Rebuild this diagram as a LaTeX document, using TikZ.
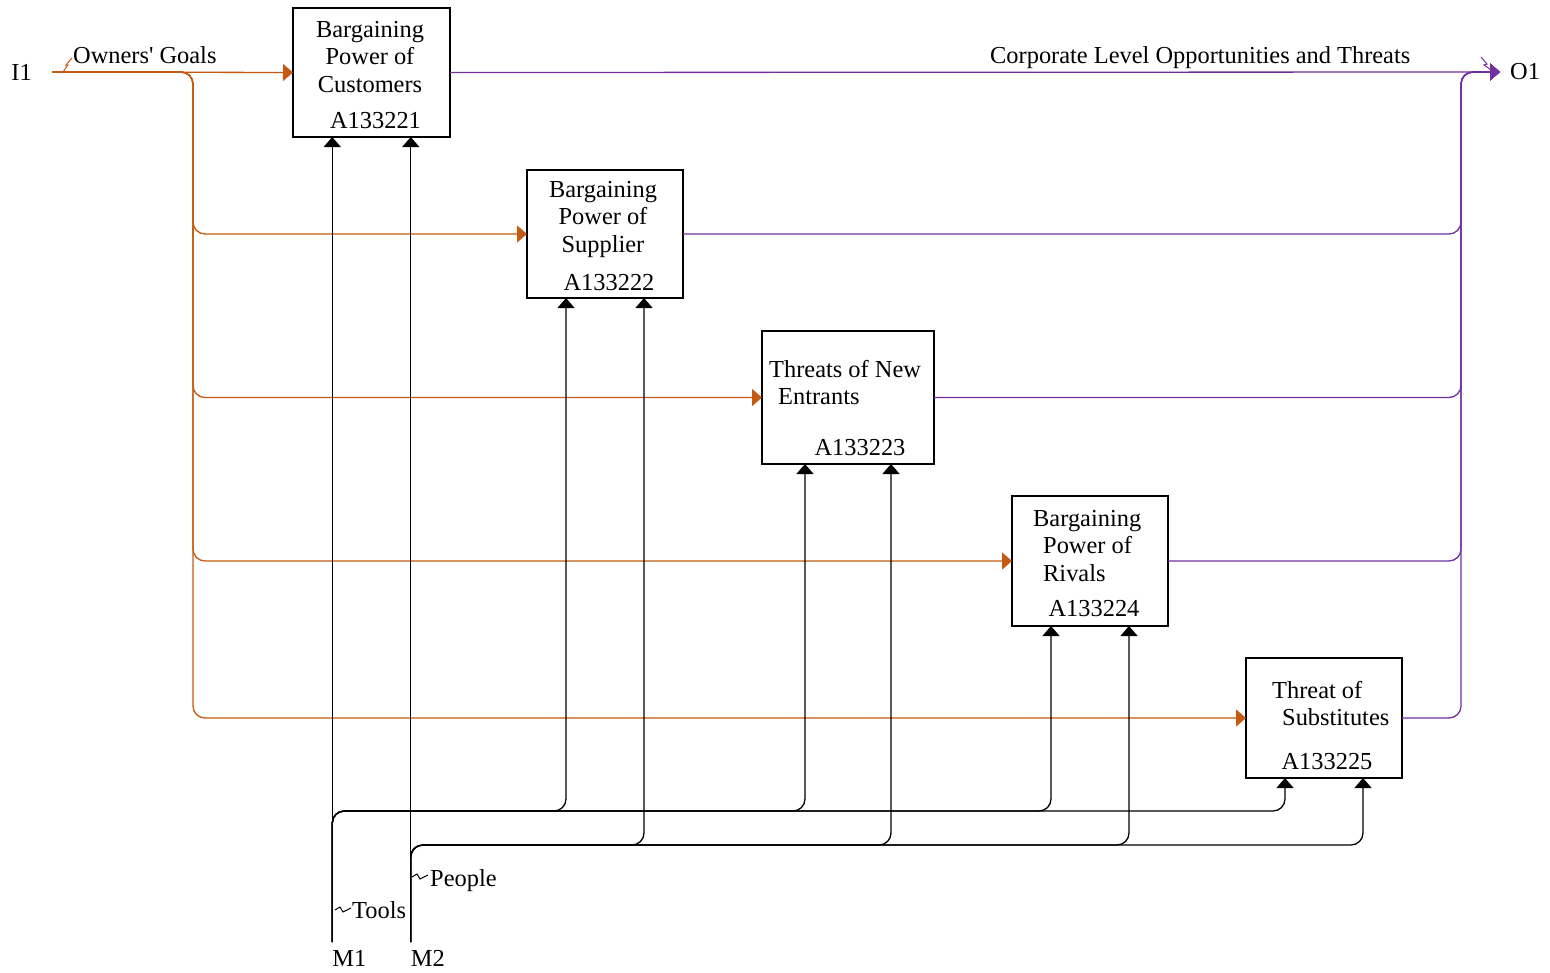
\documentclass[tikz,border=0pt]{standalone}
\usepackage{fontspec}
\setmainfont{Liberation Serif}
\usetikzlibrary{positioning}
\usetikzlibrary{calc}
\usetikzlibrary{arrows.meta}
\definecolor{inorange}{HTML}{C55A11}
\definecolor{outpurple}{HTML}{7030A0}
\tikzstyle{func}=[draw,rectangle,line width=1.2pt,inner sep=0pt,outer sep=0pt]
\tikzstyle{lbl}=[inner sep=0pt,font=\fontsize{24.4}{27.5}\selectfont]
\tikzstyle{tip}=[-{Triangle[length=10pt,width=17pt]}]
\tikzstyle{input}=[tip,draw=inorange,line width=1.3pt,rounded corners=12pt]
\tikzstyle{output}=[tip,draw=outpurple,line width=1.3pt,rounded corners=12pt]
\tikzstyle{mech}=[tip,draw=black,line width=1.3pt,rounded corners=12pt]
\tikzstyle{zig}=[line width=1pt]
\newcommand{\squig}[1]{\draw[zig] (#1) -- ++(5,-3) -- ++(3,5) -- ++(8,-4);}

\begin{document}
\begin{tikzpicture}[x=1pt,y=-1pt]
\useasboundingbox (0,0) rectangle (1550,972);

% activity boxes
\node (a1) [func,minimum width=157pt,minimum height=129pt,anchor=north west] at (293,8) {};
\node (a2) [func,minimum width=156pt,minimum height=128pt,below right=33pt and 77pt of a1.south east] {};
\node (a3) [func,minimum width=172pt,minimum height=133pt,below right=33pt and 79pt of a2.south east] {};
\node (a4) [func,minimum width=156pt,minimum height=130pt,below right=32pt and 78pt of a3.south east] {};
\node (a5) [func,minimum width=156pt,minimum height=120pt,below right=32pt and 78pt of a4.south east] {};

\node (t1) [lbl,align=center,below=13pt of a1.north,xshift=-1.5pt] {Bargaining\\Power of\\Customers};
\node (t2) [lbl,align=center,below=11pt of a2.north,xshift=-2pt] {Bargaining\\Power of\\Supplier};
\node (t3) [lbl,align=left,below right=29pt and 7pt of a3.north west] {Threats of New\\\hspace*{9pt}Entrants};
\node (t4) [lbl,align=left,below right=14pt and 21pt of a4.north west] {Bargaining\\\hspace*{10pt}Power of\\\hspace*{10pt}Rivals};
\node (t5) [lbl,align=left,below right=23pt and 26pt of a5.north west] {Threat of\\\hspace*{10pt}Substitutes};

\node (c1) [lbl,anchor=base] at ($(a1.south)+(4,-9)$) {A133221};
\node (c2) [lbl,anchor=base] at ($(a2.south)+(4,-8)$) {A133222};
\node (c3) [lbl,anchor=base] at ($(a3.south)+(12,-9)$) {A133223};
\node (c4) [lbl,anchor=base] at ($(a4.south)+(4,-10)$) {A133224};
\node (c5) [lbl,anchor=base] at ($(a5.south)+(3,-9)$) {A133225};

% ends of the arrows
\coordinate (i1) at (52,72);
\coordinate (o1) at (1500,72);
\coordinate (ob) at (1461,72);
\coordinate (rail1) at (0,811);
\coordinate (rail2) at (0,845);
\foreach \i in {1,...,5} {
  \coordinate (l\i) at ($(a\i.south west)!.25!(a\i.south east)$);
  \coordinate (r\i) at ($(a\i.south west)!.75!(a\i.south east)$);
}
\coordinate (m1) at (l1 |- 0,942);
\coordinate (m2) at (r1 |- 0,942);

% inputs
\draw[input] (i1) -- (a1.west);
\foreach \i in {2,...,5}
  \draw[input] (i1) -- ++(141,0) |- (a\i.west);
\draw[zig,inorange] (63,72) -- (68,65) -- (66,65) -- (72,58);

% outputs
\draw[output] (a1.east) -- (o1);
\foreach \i in {2,...,5}
  \draw[output] (a\i.east) -| (ob) -- (o1);
\draw[zig,outpurple] (1481,57) -- (1487,64) -- (1484,65) -- (1491,70);

% mechanisms
\draw[mech] (m1) -- (l1);
\draw[mech] (m2) -- (r1);
\foreach \i in {2,...,5} {
  \draw[mech] (m1) -- (m1 |- rail1) -| (l\i);
  \draw[mech] (m2) -- (m2 |- rail2) -| (r\i);
}
\squig{335,910}
\squig{412,877}

% labels
\node (i1l) [lbl,left=20pt of i1] {I1};
\node (o1l) [lbl,right=10pt of o1] {O1};
\node (ig) [lbl,anchor=base west] at (73,63) {Owners\textquotesingle{} Goals};
\node (og) [lbl,anchor=base west] at (990,63) {Corporate Level Opportunities and Threats};
\node (tl) [lbl,anchor=base west] at (352,918) {Tools};
\node (pl) [lbl,anchor=base west] at (430,886) {People};
\node (m1l) [lbl,anchor=base west] at ($(m1)+(0,24)$) {M1};
\node (m2l) [lbl,anchor=base west] at ($(m2)+(0,24)$) {M2};
\end{tikzpicture}
\end{document}
